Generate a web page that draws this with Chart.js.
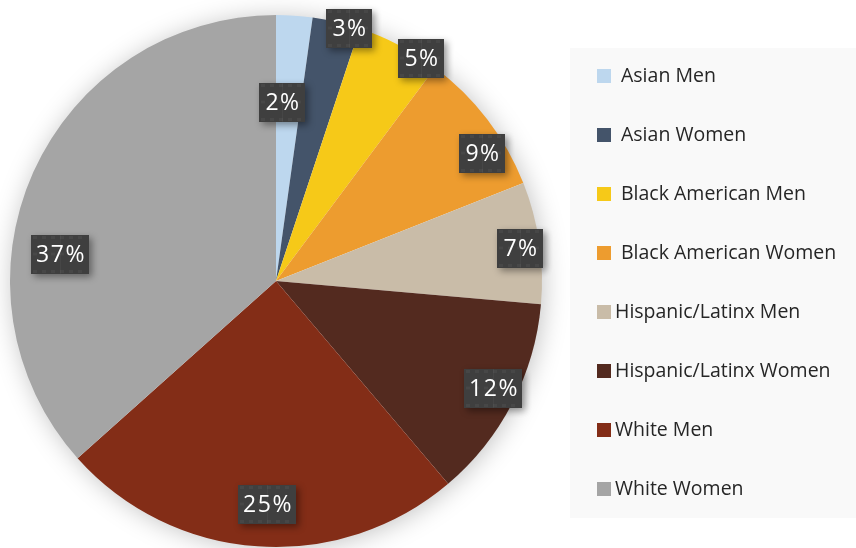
<!DOCTYPE html>
<html>
<head>
<meta charset="utf-8">
<script src="https://cdn.jsdelivr.net/npm/chart.js@4"></script>
<style>
  html, body { margin: 0; padding: 0; background: #ffffff; }
  #wrap { position: relative; width: 856px; height: 548px; }
</style>
</head>
<body>
<div id="wrap"><canvas id="pieChart" width="856" height="548"></canvas></div>
<script>
// data
const groups = ['Asian Men', 'Asian Women', 'Black American Men', 'Black American Women',
                'Hispanic/Latinx Men', 'Hispanic/Latinx Women', 'White Men', 'White Women'];
const shares = [2.2, 2.9, 5.1, 8.8, 7.4, 12.4, 24.6, 36.6];
const pctLabels = ['2%', '3%', '5%', '9%', '7%', '12%', '25%', '37%'];
const sliceColors = ['#bdd7ee', '#44546a', '#f6c918', '#ed9c2f', '#c9bca8', '#532a1f', '#832d17', '#a5a5a5'];

// where each label sits inside its slice: [fraction of the slice angle, fraction of radius]
const labelSpots = [[0.24, 0.67], [0.79, 0.99], [0.80, 1.0], [0.68, 0.91],
                    [0.53, 0.925], [0.48, 0.91], [0.48, 0.84], [0.37, 0.82]];

// soft glow behind the pie
const pieShadow = {
    id: 'pieShadow',
    beforeDatasetsDraw(chart) {
        const arc = chart.getDatasetMeta(0).data[0];
        if (!arc) return;
        const ctx = chart.ctx;
        ctx.save();
        ctx.shadowColor = 'rgba(0,0,0,0.25)';
        ctx.shadowBlur = 26;
        ctx.shadowOffsetX = 2;
        ctx.shadowOffsetY = 2;
        ctx.fillStyle = '#ffffff';
        ctx.beginPath();
        ctx.arc(arc.x, arc.y, arc.outerRadius - 1, 0, Math.PI * 2);
        ctx.fill();
        ctx.restore();
    }
};

// dark boxed percentage labels
const boxLabels = {
    id: 'boxLabels',
    afterDatasetsDraw(chart) {
        const ctx = chart.ctx;
        const meta = chart.getDatasetMeta(0);
        meta.data.forEach((arc, i) => {
            const spot = labelSpots[i];
            const ang = arc.startAngle + (arc.endAngle - arc.startAngle) * spot[0];
            const r = arc.outerRadius * spot[1];
            const x = arc.x + Math.cos(ang) * r;
            const y = arc.y + Math.sin(ang) * r;
            const txt = pctLabels[i];
            const w = txt.length > 2 ? 58 : 46;
            const h = 39;
            const bx = Math.round(x - w / 2), by = Math.round(y - h / 2);

            ctx.save();
            ctx.shadowColor = 'rgba(0,0,0,0.4)';
            ctx.shadowBlur = 7;
            ctx.shadowOffsetX = 3;
            ctx.shadowOffsetY = 3;
            ctx.fillStyle = '#3f3f3f';
            ctx.fillRect(bx, by, w, h);
            ctx.restore();

            // faint dotted texture
            ctx.save();
            ctx.fillStyle = 'rgba(255,255,255,0.045)';
            for (let px = bx + 2; px < bx + w - 2; px += 9) {
                ctx.fillRect(px, by + 1, 4, 3);
                ctx.fillRect(px, by + h - 4, 4, 3);
                ctx.fillRect(px, by + h / 2 - 2, 4, 3);
            }
            ctx.fillStyle = 'rgba(255,255,255,0.04)';
            ctx.fillRect(bx + Math.round(w / 2), by, 1, h);
            ctx.restore();

            ctx.save();
            ctx.fillStyle = '#ffffff';
            ctx.font = '500 23px "Open Sans", "Noto Sans", sans-serif';
            ctx.textAlign = 'center';
            ctx.textBaseline = 'middle';
            if ('letterSpacing' in ctx) ctx.letterSpacing = '1.5px';
            ctx.fillText(txt, bx + w / 2 + 1, by + h / 2 + 1);
            ctx.restore();
        });
    }
};

// legend panel on the right
const sideLegend = {
    id: 'sideLegend',
    afterDraw(chart) {
        const ctx = chart.ctx;
        ctx.save();
        ctx.fillStyle = '#f9f9f9';
        ctx.fillRect(570, 48, 286, 470);
        ctx.font = '19.5px "Open Sans", "Noto Sans", sans-serif';
        ctx.textBaseline = 'middle';
        groups.forEach((g, i) => {
            const y = 76 + i * 59;
            ctx.fillStyle = sliceColors[i];
            ctx.fillRect(597, y - 7, 14, 14);
            ctx.fillStyle = '#262626';
            ctx.fillText(g, i < 4 ? 621 : 615, y);
        });
        ctx.restore();
    }
};

new Chart(document.getElementById('pieChart'), {
    type: 'pie',
    data: {
        labels: groups,
        datasets: [{
            data: shares,
            backgroundColor: sliceColors,
            borderWidth: 0
        }]
    },
    options: {
        responsive: false,
        animation: false,
        layout: { padding: { left: 10, right: 314, top: 15, bottom: 1 } },
        plugins: {
            legend: { display: false },
            tooltip: { enabled: false }
        }
    },
    plugins: [pieShadow, boxLabels, sideLegend]
});
</script>
</body>
</html>
